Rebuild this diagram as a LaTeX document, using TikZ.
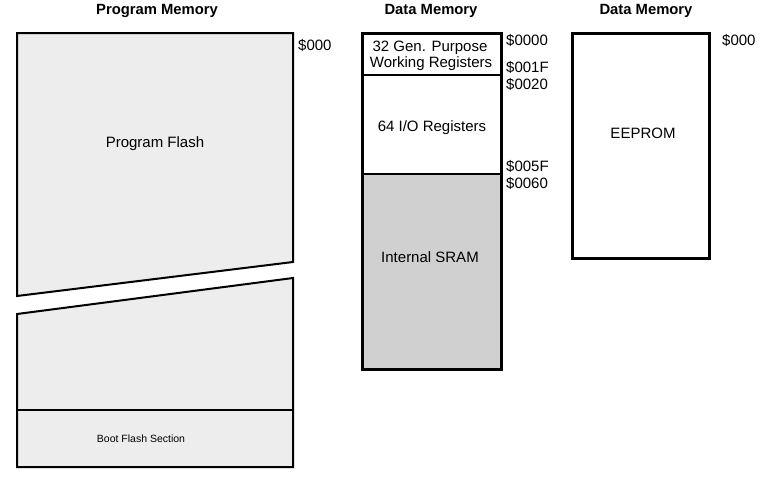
\documentclass[tikz,border=0pt]{standalone}
\usepackage{fontspec}
\setmainfont{Liberation Sans}
\definecolor{flashgray}{RGB}{237,237,237}
\definecolor{sramgray}{RGB}{208,208,208}
\begin{document}
\begin{tikzpicture}[x=1pt,y=-1pt,
  txt/.style={inner sep=0pt,anchor=base,font=\fontsize{15}{17}\selectfont},
  ttl/.style={txt,font=\fontsize{14.8}{17}\selectfont\bfseries},
  addr/.style={txt,anchor=base west},
  small/.style={inner sep=0pt,anchor=base,font=\fontsize{10.5}{12}\selectfont},
  thickbox/.style={draw=black,line width=3pt},
  thinbox/.style={draw=black,line width=2pt,line join=miter}]
\useasboundingbox (0,0) rectangle (764,482);
% Program memory
\filldraw[fill=flashgray,thinbox] (17,33) -- (293,33) -- (293,262) -- (17,296) -- cycle;
\filldraw[fill=flashgray,thinbox] (17,314) -- (293,278) -- (293,467) -- (17,467) -- cycle;
\draw[line width=1.3pt] (17,410) -- (293,410);
% Data memory
\fill[white] (362,33) rectangle (501,174);
\fill[sramgray] (362,174) rectangle (501,369);
\draw[line width=2pt] (362,75) -- (501,75);
\draw[line width=2pt] (362,174) -- (501,174);
\draw[thickbox] (362,33) rectangle (501,369);
% EEPROM
\draw[thickbox] (572,33) rectangle (709,258);
% Titles
\node[ttl] (t1) at (157,14) {Program Memory};
\node[ttl] (t2) at (431,14) {Data Memory};
\node[ttl] (t3) at (646,14) {Data Memory};
% Texts
\node[txt] (pf) at (155,147) {Program Flash};
\node[small] (bf) at (141,442) {Boot Flash Section};
\node[txt] (g1) at (430,51) {32 Gen. Purpose};
\node[txt] (g2) at (431,67) {Working Registers};
\node[txt] (io) at (432,131) {64 I/O Registers};
\node[txt] (sr) at (430,262) {Internal SRAM};
\node[txt] (ee) at (643,138) {EEPROM};
% Addresses
\node[addr] (a0) at (298,50) {\$000};
\node[addr] (d0) at (506,45) {\$0000};
\node[addr] (d1) at (506,72) {\$001F};
\node[addr] (d2) at (506,89) {\$0020};
\node[addr] (d3) at (506,171) {\$005F};
\node[addr] (d4) at (506,188) {\$0060};
\node[addr] (e0) at (722,45) {\$000};
\end{tikzpicture}
\end{document}
